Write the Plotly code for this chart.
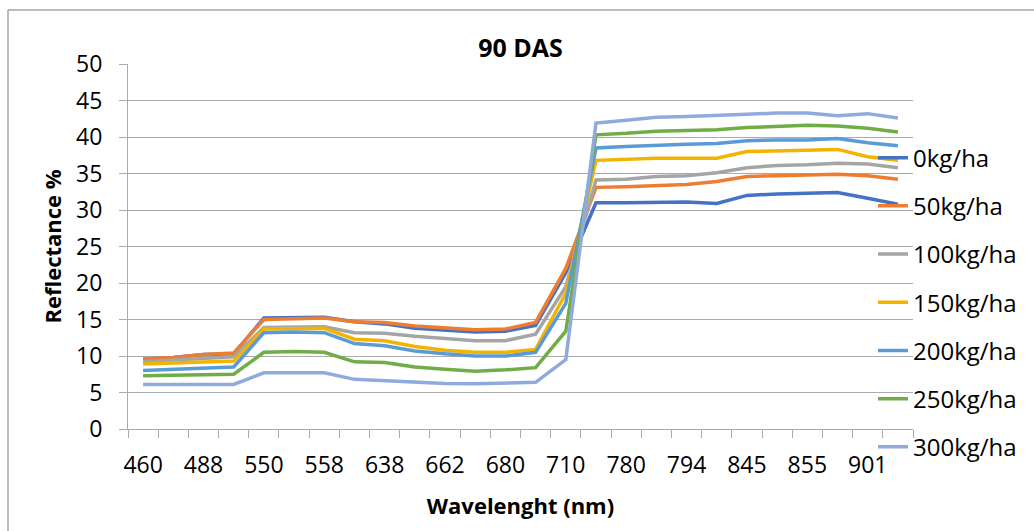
import plotly.graph_objects as go

# Wavelength categories (only every other one is labelled on the axis)
categories = ["460", "475", "488", "500", "550", "555", "558", "610", "638", "650",
              "662", "670", "680", "700", "710", "740", "780", "790", "794", "810",
              "845", "850", "855", "880", "901", "920"]
tick_labels = ["460", "", "488", "", "550", "", "558", "", "638", "", "662", "", "680", "",
               "710", "", "780", "", "794", "", "845", "", "855", "", "901", ""]

series_names = ["0kg/ha", "50kg/ha", "100kg/ha", "150kg/ha", "200kg/ha", "250kg/ha", "300kg/ha"]

kg0 = [9.6, 9.8, 10.2, 10.3, 15.2, 15.2, 15.3, 14.7, 14.4, 13.8, 13.5, 13.3, 13.4, 14.2,
       21.4, 31.0, 31.0, 31.0, 31.1, 30.9, 32.0, 32.2, 32.3, 32.4, 31.6, 30.8]
kg50 = [9.6, 9.8, 10.2, 10.4, 15.0, 15.1, 15.2, 14.7, 14.6, 14.1, 13.8, 13.6, 13.7, 14.6,
        22.0, 33.1, 33.2, 33.4, 33.5, 33.9, 34.6, 34.7, 34.8, 34.9, 34.7, 34.2]
kg100 = [9.2, 9.4, 9.7, 9.9, 13.9, 14.0, 14.0, 13.2, 13.1, 12.7, 12.4, 12.1, 12.1, 13.0,
         19.5, 34.1, 34.2, 34.6, 34.7, 35.1, 35.8, 36.1, 36.2, 36.4, 36.3, 35.8]
kg150 = [8.9, 9.0, 9.2, 9.3, 13.7, 13.8, 13.8, 12.3, 12.1, 11.3, 10.8, 10.5, 10.5, 10.9,
         18.6, 36.8, 37.0, 37.1, 37.1, 37.1, 38.0, 38.1, 38.2, 38.3, 37.3, 36.8]
kg200 = [8.0, 8.15, 8.3, 8.5, 13.2, 13.3, 13.2, 11.7, 11.4, 10.7, 10.3, 10.0, 10.0, 10.5,
         17.2, 38.5, 38.7, 38.9, 39.0, 39.1, 39.5, 39.6, 39.6, 39.8, 39.2, 38.8]
kg250 = [7.3, 7.35, 7.5, 7.5, 10.5, 10.6, 10.5, 9.2, 9.1, 8.5, 8.2, 7.9, 8.1, 8.4,
         13.4, 40.3, 40.5, 40.8, 40.9, 41.0, 41.3, 41.5, 41.6, 41.5, 41.2, 40.7]
kg300 = [6.1, 6.1, 6.1, 6.1, 7.7, 7.75, 7.7, 6.8, 6.6, 6.4, 6.25, 6.2, 6.25, 6.4,
         9.5, 41.9, 42.3, 42.7, 42.8, 42.9, 43.1, 43.3, 43.3, 42.9, 43.2, 42.6]

series_values = [kg0, kg50, kg100, kg150, kg200, kg250, kg300]
colors = ["#4472C4", "#ED7D31", "#A5A5A5", "#F2B400", "#5B9BD5", "#70AD47", "#8FAADC"]

FONT = "Open Sans, Liberation Sans, Arial, sans-serif"
GRID = "#ABABAB"

# plot-area geometry in page pixels
L, T, B, W, H = 128, 64, 102, 785, 365
FIG_W, FIG_H = 1034, 531

fig = go.Figure()
for name, vals, col in zip(series_names, series_values, colors):
    fig.add_trace(go.Scatter(
        x=categories, y=vals, name=name, mode="lines",
        line=dict(color=col, width=3.5),
        legendgroup=name,
    ))

fig.update_layout(
    width=FIG_W, height=FIG_H,
    margin=dict(l=L, r=FIG_W - L - W, t=T, b=B, autoexpand=False),
    paper_bgcolor="white", plot_bgcolor="white",
    font=dict(family=FONT, color="black"),
    title=dict(text="<b>90 DAS</b>", x=0.5, xref="paper", xanchor="center",
               y=1 - 48 / FIG_H, yanchor="middle",
               font=dict(size=25, family=FONT, color="black")),
    showlegend=True,
    legend=dict(x=0.949, xanchor="left", y=0.804, yanchor="top",
                bgcolor="rgba(0,0,0,0)", font=dict(size=24, family=FONT),
                tracegroupgap=14, itemsizing="trace"),
    xaxis=dict(
        type="category", range=[-0.5, len(categories) - 0.5],
        tickmode="array", tickvals=categories, ticktext=tick_labels,
        tickson="boundaries", ticks="outside", ticklen=8, tickcolor=GRID,
        tickangle=0,
        showline=True, linecolor=GRID, linewidth=1, showgrid=False,
        tickfont=dict(size=23, family=FONT), ticklabelstandoff=15,
        title=dict(text="<b>Wavelenght (nm)</b>", font=dict(size=22, family=FONT), standoff=20),
    ),
    yaxis=dict(
        range=[0, 50], dtick=5, tick0=0,
        showgrid=True, gridcolor=GRID, gridwidth=1,
        showline=True, linecolor=GRID, linewidth=1,
        ticks="outside", ticklen=8, tickcolor=GRID,
        tickfont=dict(size=23, family=FONT), ticklabelstandoff=12,
        zeroline=False,
        title=dict(text="<b>Reflectance %</b>", font=dict(size=22, family=FONT), standoff=8),
    ),
)

# chart-area frame (left and top edges visible in the reference)
def px_x(p):
    return (p - L) / W

def px_y(p):
    return (T + H - p) / H

fig.add_shape(type="line", xref="paper", yref="paper",
              x0=px_x(8), x1=px_x(FIG_W), y0=px_y(10), y1=px_y(10),
              line=dict(color="#A6A6A6", width=1.5))
fig.add_shape(type="line", xref="paper", yref="paper",
              x0=px_x(8), x1=px_x(8), y0=px_y(10), y1=px_y(FIG_H),
              line=dict(color="#A6A6A6", width=1.5))

fig.write_html("out.html", config={"displayModeBar": False},
               post_script="document.body.style.margin='0px';")
